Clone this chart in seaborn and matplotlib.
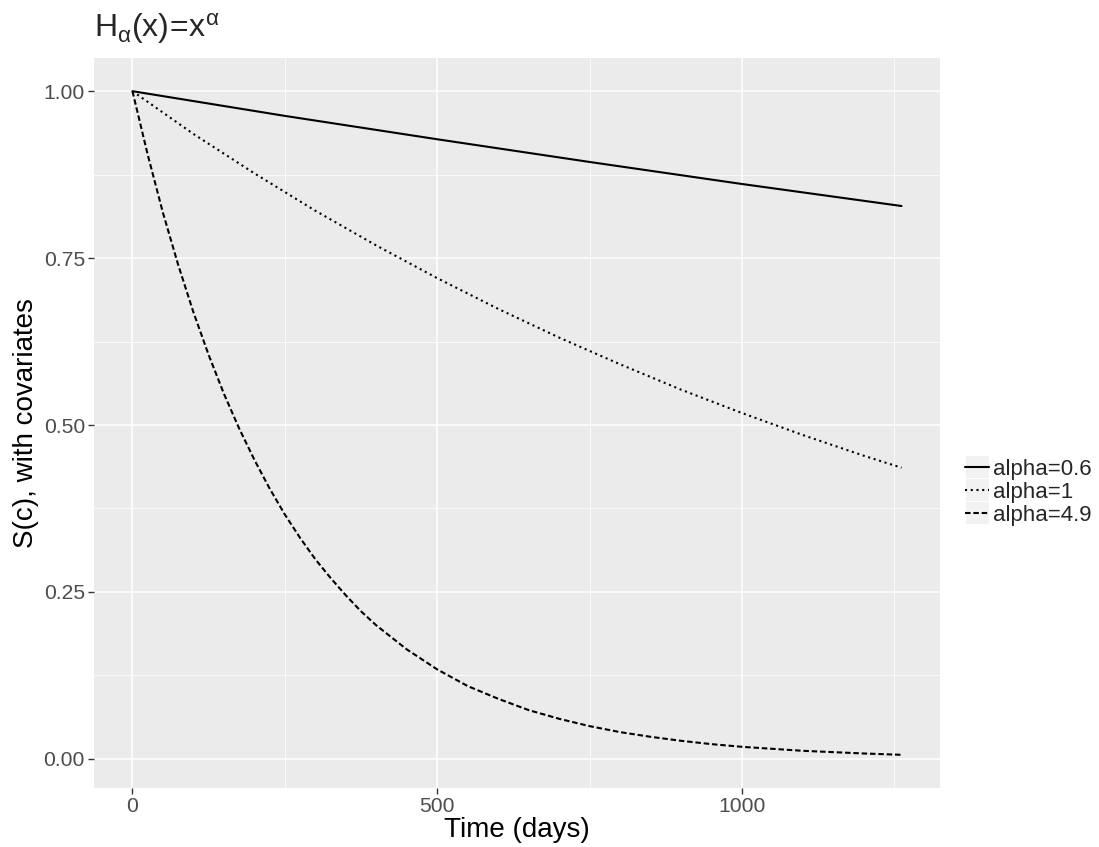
import numpy as np
import pandas as pd
import matplotlib
matplotlib.use("Agg")
import matplotlib.pyplot as plt
from matplotlib.ticker import FixedLocator
from matplotlib.patches import Rectangle
import seaborn as sns

# Survival curves S(c) for three values of alpha
time_solid = [0, 250, 500, 750, 1000, 1262]
surv_solid = [1.000, 0.963, 0.928, 0.894, 0.861, 0.828]

time_dotted = [0, 100, 200, 300, 400, 500, 600, 700, 800, 900, 1000, 1100, 1200, 1262]
surv_dotted = [1.000, 0.936, 0.877, 0.821, 0.769, 0.720, 0.674, 0.631, 0.591, 0.553,
               0.518, 0.485, 0.454, 0.436]

time_dashed = [0, 25, 50, 75, 100, 125, 150, 175, 200, 225, 250, 275, 300, 325, 350,
               375, 400, 450, 500, 550, 600, 650, 700, 750, 800, 850, 900, 950, 1000,
               1050, 1100, 1150, 1200, 1262]
surv_dashed = [1.000, 0.905, 0.818, 0.740, 0.669, 0.605, 0.547, 0.495, 0.448, 0.405,
               0.366, 0.331, 0.299, 0.271, 0.245, 0.221, 0.200, 0.164, 0.134, 0.109,
               0.090, 0.073, 0.060, 0.049, 0.040, 0.033, 0.027, 0.022, 0.018, 0.015,
               0.012, 0.010, 0.008, 0.006]

series_labels = ["alpha=0.6", "alpha=1", "alpha=4.9"]

df = pd.concat([
    pd.DataFrame({"time": time_solid, "surv": surv_solid, "group": series_labels[0]}),
    pd.DataFrame({"time": time_dotted, "surv": surv_dotted, "group": series_labels[1]}),
    pd.DataFrame({"time": time_dashed, "surv": surv_dashed, "group": series_labels[2]}),
], ignore_index=True)

sns.set_theme(style="darkgrid")
plt.rcParams["font.family"] = ["Liberation Sans", "DejaVu Sans"]
plt.rcParams["mathtext.fontset"] = "custom"
plt.rcParams["mathtext.rm"] = "Liberation Sans"
plt.rcParams["mathtext.it"] = "Liberation Sans"
plt.rcParams["mathtext.bf"] = "Liberation Sans:bold"

W, H = 1099, 847
fig = plt.figure(figsize=(W / 100, H / 100), dpi=100)
fig.patch.set_facecolor("white")
ax = fig.add_axes([94 / W, 1 - 788 / H, (940 - 94) / W, (788 - 58) / H])
ax.set_facecolor("#ebebeb")

LW = 1.5
dash_styles = {series_labels[0]: "", series_labels[1]: (1.0, 1.75),
               series_labels[2]: (2.65, 1.35)}
sns.lineplot(data=df, x="time", y="surv", style="group", dashes=dash_styles,
             color="black", linewidth=LW, ax=ax, legend=True, sort=False)

# ggplot-like 5% expansion
xmin, xmax = 0, 1262
ymin, ymax = 0.006, 1.0
ax.set_xlim(xmin - 0.05 * (xmax - xmin), xmax + 0.05 * (xmax - xmin))
ax.set_ylim(ymin - 0.05 * (ymax - ymin), ymax + 0.05 * (ymax - ymin))

ax.xaxis.set_major_locator(FixedLocator([0, 500, 1000]))
ax.xaxis.set_minor_locator(FixedLocator([250, 750, 1250]))
ax.yaxis.set_major_locator(FixedLocator([0, 0.25, 0.5, 0.75, 1.0]))
ax.yaxis.set_minor_locator(FixedLocator([0.125, 0.375, 0.625, 0.875]))
ax.set_yticklabels(["0.00", "0.25", "0.50", "0.75", "1.00"])
ax.set_xticklabels(["0", "500", "1000"])

ax.grid(which="major", color="white", linewidth=1.1)
ax.grid(which="minor", color="white", linewidth=0.55)
for s in ax.spines.values():
    s.set_visible(False)

ax.tick_params(axis="both", which="major", length=4, width=1.0, color="#333333",
               labelcolor="#4d4d4d", labelsize=15.2, pad=2.5, bottom=True, left=True)
ax.tick_params(axis="both", which="minor", length=0)

ax.set_xlabel("Time (days)", fontsize=20, color="black", labelpad=1)
ax.set_ylabel("S(c), with covariates", fontsize=20, color="black", labelpad=3)
ax.set_title(r"$\mathrm{H}_{\alpha}(\mathrm{x})\!=\!\mathrm{x}^{\alpha}$", loc="left",
             fontsize=23, pad=15)

leg = ax.legend(loc="center left", bbox_to_anchor=(1.03, 0.405), frameon=False,
                fontsize=16, handlelength=1.05, handletextpad=0.2, labelspacing=0.08,
                borderaxespad=0, borderpad=0)
for line in leg.get_lines():
    line.set_linewidth(LW)

# grey key backgrounds behind the legend glyphs
fig.canvas.draw()
renderer = fig.canvas.get_renderer()
for line in leg.get_lines():
    bb = line.get_window_extent(renderer)
    cy = (bb.y0 + bb.y1) / 2
    cx = (bb.x0 + bb.x1) / 2
    rect = Rectangle(((cx - 11.5) / W, (cy - 11) / H), 23 / W, 22 / H,
                     transform=fig.transFigure, facecolor="#f2f2f2",
                     edgecolor="none", zorder=1, clip_on=False)
    ax.add_patch(rect)

fig.savefig("out.png", dpi=100, facecolor="white")
